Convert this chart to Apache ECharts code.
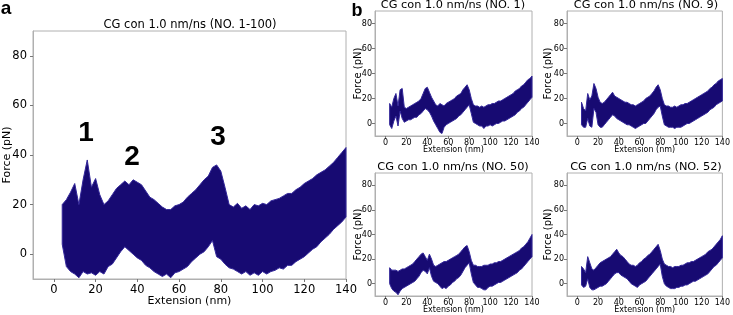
<!DOCTYPE html>
<html>
<head>
<meta charset="utf-8">
<script src="https://cdn.jsdelivr.net/npm/echarts@6/dist/echarts.min.js"></script>
<style>
  html, body { margin: 0; padding: 0; background: #fff; }
  #chart { width: 733px; height: 315px; }
</style>
</head>
<body>
<div id="chart"></div>
<script>
// extension grid (nm), one sample every 2 nm
const ext = []
for (let x = 4; x <= 140; x += 2) ext.push(x)

const xTicks = [0, 20, 40, 60, 80, 100, 120, 140]
const yTicks = [0, 20, 40, 60, 80]

// panel a: envelope of all 100 runs (upper / lower force, pN)
const allUpper = [
  20, 22, 25, 28.5, 20, 30, 38, 27, 30.5, 24,
  20, 21.5, 24, 26.5, 28, 29.5, 28, 30, 29, 28,
  25.5, 23, 22, 20.5, 19, 18, 18, 19.5, 20, 21,
  23, 24.5, 26, 28, 30, 31.5, 35, 36, 33.5, 27,
  20, 19, 20.5, 18.5, 19.5, 18, 20, 19.5, 20.5, 20,
  21.5, 22, 22.5, 23.5, 24.5, 24.5, 26, 27, 28.5, 29.5,
  30.5, 32, 33, 34, 35.5, 37, 39, 41, 43
]
const allLower = [
  4, -5, -7, -8, -9.5, -7, -8, -7.5, -8.5, -7,
  -8, -5, -4, -1.5, 1, 3, 1.5, 0, -1.5, -2.5,
  -4.5, -5.5, -7, -8, -9, -8, -9.5, -7.5, -7, -6,
  -5, -3, -1.5, 0, 1, 3, 5.5, -1, -2, -4,
  -5.5, -6, -7, -8, -7, -8.5, -7.5, -8.5, -7, -8,
  -7, -6.5, -5.5, -6, -4.5, -4.5, -3, -2, -1, 0.5,
  2, 3, 5, 6.5, 8, 10, 11.5, 13, 15
]

// panel b: single runs
const no1Upper = [
  16, 13, 20, 24, 14, 27, 28, 13, 12, 13,
  14, 15, 16, 17, 18, 20, 24, 28, 29, 25,
  21, 18, 15, 14, 16, 15, 14, 16, 17, 18,
  19, 20, 22, 23, 24, 27, 29, 31, 27, 20,
  15, 14, 14, 13, 14, 13, 14, 15, 15, 16,
  16, 17, 18, 18, 19, 20, 21, 22, 23, 24,
  26, 27, 28, 30, 31, 33, 35, 36, 38
]
const no1Lower = [
  -1, -4, 2, 6, -2, 10, 4, 1, 2, 3,
  3, 4, 5, 5, 7, 8, 10, 12, 11, 9,
  6, 2, -1, -4, -7, -8, -3, -1, 0, 1,
  2, 3, 4, 6, 7, 9, 11, 13, 15, 8,
  1, 0, -1, -2, -2, -4, -2, -2, -1, -2,
  -1, 0, 0, 1, 2, 2, 3, 4, 5, 6,
  7, 9, 10, 12, 13, 15, 17, 19, 21
]
const no9Upper = [
  17, 12, 10, 24, 19, 22, 32, 28, 21, 17,
  16, 17, 19, 21, 23, 25, 22, 21, 20, 19,
  18, 17, 17, 16, 15, 15, 14, 15, 16, 17,
  18, 20, 21, 22, 24, 26, 29, 31, 27, 20,
  15, 14, 14, 13, 13, 14, 13, 14, 15, 15,
  16, 16, 17, 18, 19, 20, 21, 22, 23, 24,
  25, 26, 28, 29, 31, 32, 34, 35, 36
]
const no9Lower = [
  -1, -3, -3, 4, -2, -3, 12, 9, -1, -3,
  -3, -1, 1, 3, 5, 7, 6, 4, 3, 2,
  1, 0, -1, -1, -2, -3, -4, -3, -2, -1,
  0, 0, 2, 4, 6, 8, 11, 13, 14, 6,
  -1, -2, -3, -3, -3, -4, -3, -3, -3, -2,
  -1, 0, 0, 1, 2, 3, 4, 5, 6, 7,
  8, 9, 11, 12, 13, 15, 16, 17, 18
]
const no50Upper = [
  13, 11, 11, 11, 10, 11, 12, 12, 13, 14,
  15, 16, 18, 20, 22, 24, 25, 22, 19, 24,
  20, 15, 14, 15, 16, 17, 18, 18, 19, 20,
  21, 22, 23, 24, 26, 28, 30, 31, 26, 19,
  15, 15, 14, 14, 14, 15, 15, 15, 16, 16,
  17, 17, 18, 18, 19, 20, 21, 22, 23, 24,
  25, 26, 27, 29, 30, 32, 34, 37, 40
]
const no50Lower = [
  0, -4, -6, -7, -9, -6, -4, -3, -2, -1,
  0, 1, 2, 4, 6, 9, 11, 10, 8, 13,
  6, 2, 1, 0, -2, -4, -3, -4, -2, -1,
  1, 2, 4, 5, 7, 10, 13, 15, 17, 8,
  1, -1, -3, -3, -4, -5, -5, -3, -2, -2,
  -1, 0, 1, 1, 2, 3, 4, 5, 6, 7,
  8, 9, 11, 12, 14, 16, 18, 20, 22
]
const no52Upper = [
  14, 12, 9, 22, 17, 12, 11, 13, 15, 17,
  18, 19, 20, 21, 22, 24, 26, 28, 25, 23,
  22, 20, 18, 16, 15, 15, 14, 15, 17, 18,
  20, 21, 23, 24, 26, 28, 30, 32, 27, 20,
  16, 15, 14, 14, 13, 14, 14, 14, 15, 15,
  16, 17, 17, 18, 18, 19, 20, 21, 22, 23,
  24, 26, 27, 28, 30, 32, 34, 36, 39
]
const no52Lower = [
  -1, -3, -2, 4, -3, -5, -5, -4, -3, -2,
  -2, -1, 0, 2, 4, 6, 8, 9, 9, 7,
  6, 5, 4, 2, 0, -1, -2, -3, -1, 0,
  1, 2, 4, 6, 8, 10, 12, 14, 16, 6,
  0, -2, -3, -4, -4, -4, -3, -3, -2, -2,
  -1, -1, 0, 1, 2, 2, 3, 4, 5, 6,
  7, 8, 10, 12, 14, 15, 17, 19, 21
]

const fillColor = '#170a72'
const edgeColor = '#33279a'
const spineColor = '#b0b0b0'
const font = 'DejaVu Sans'

const panels = [
  { grid: { left: 33, top: 31, width: 313, height: 248 }, upper: allUpper, lower: allLower,
    tick: 11.5, name: 11, yGap: 20, xGap: 17, margin: 5, yMargin: 6 },
  { grid: { left: 375, top: 11, width: 157, height: 125 }, upper: no1Upper, lower: no1Lower,
    tick: 8, name: 8, yName: 10, yGap: 12, xGap: 10, margin: 3, yMargin: 3 },
  { grid: { left: 567, top: 11, width: 157, height: 125 }, upper: no9Upper, lower: no9Lower,
    tick: 8, name: 8, yName: 10, yGap: 14, xGap: 10, margin: 3, yMargin: 3 },
  { grid: { left: 375, top: 173, width: 157, height: 124 }, upper: no50Upper, lower: no50Lower,
    tick: 8, name: 8, yName: 10, yGap: 12, xGap: 10, margin: 3, yMargin: 3 },
  { grid: { left: 567, top: 173, width: 157, height: 124 }, upper: no52Upper, lower: no52Lower,
    tick: 8, name: 8, yName: 10, yGap: 14, xGap: 10, margin: 3, yMargin: 3 }
]

const grid = []
const xAxis = []
const yAxis = []
const series = []

panels.forEach((p, i) => {
  grid.push(Object.assign({ show: true, borderColor: spineColor, borderWidth: 1 }, p.grid))
  const axisCommon = {
    gridIndex: i,
    type: 'value',
    nameLocation: 'middle',
    nameMoveOverlap: false,
    axisLine: { show: true, onZero: false, lineStyle: { color: spineColor } },
    axisTick: { show: true, length: 3, lineStyle: { color: '#777' } },
    splitLine: { show: false }
  }
  xAxis.push(Object.assign({}, axisCommon, {
    min: -10,
    max: 140,
    name: 'Extension (nm)',
    nameGap: p.xGap,
    nameTextStyle: { fontSize: p.name, fontFamily: font, color: '#000' },
    axisTick: Object.assign({}, axisCommon.axisTick, { customValues: xTicks }),
    axisLabel: { customValues: xTicks, fontSize: p.tick, fontFamily: font, color: '#000', margin: p.margin }
  }))
  yAxis.push(Object.assign({}, axisCommon, {
    min: -10,
    max: 90,
    name: 'Force (pN)',
    nameGap: p.yGap,
    nameTextStyle: { fontSize: p.yName || p.name, fontFamily: font, color: '#000' },
    axisTick: Object.assign({}, axisCommon.axisTick, { customValues: yTicks }),
    axisLabel: { customValues: yTicks, fontSize: p.tick, fontFamily: font, color: '#000', margin: p.yMargin }
  }))
  // band between lower and upper force, one polygon per panel
  series.push({
    type: 'custom',
    xAxisIndex: i,
    yAxisIndex: i,
    silent: true,
    encode: { x: 0, y: [1, 2] },
    data: ext.map((x, k) => [x, p.lower[k], p.upper[k]]),
    renderItem: (params, api) => {
      if (params.dataIndex !== 0) return
      const top = ext.map((x, k) => api.coord([x, p.upper[k]]))
      const bottom = ext.map((x, k) => api.coord([x, p.lower[k]])).reverse()
      return {
        type: 'polygon',
        shape: { points: top.concat(bottom) },
        style: { fill: fillColor, stroke: edgeColor, lineWidth: 1 }
      }
    }
  })
})

const txt = (text, x, y, size, weight, family) => ({
  type: 'text', x: x, y: y, silent: true,
  style: { text: text, fontSize: size, fontWeight: weight || 'normal', fontFamily: family || font,
    fill: '#000', align: 'center', verticalAlign: 'middle' }
})

const graphic = [
  txt('CG con 1.0 nm/ns (NO. 1-100)', 190, 25, 11.5),
  txt('CG con 1.0 nm/ns (NO. 1)', 453, 5.5, 11.3),
  txt('CG con 1.0 nm/ns (NO. 9)', 646, 5.5, 11.3),
  txt('CG con 1.0 nm/ns (NO. 50)', 453, 167, 11.3),
  txt('CG con 1.0 nm/ns (NO. 52)', 646, 167, 11.3),
  txt('a', 6, 9, 19, 'bold', 'Liberation Sans'),
  txt('b', 357, 11, 18, 'bold', 'Liberation Sans'),
  txt('1', 86, 133, 28, 'bold', 'Liberation Sans'),
  txt('2', 132, 157, 28, 'bold', 'Liberation Sans'),
  txt('3', 218, 137, 28, 'bold', 'Liberation Sans')
]

const chart = echarts.init(document.getElementById('chart'))
chart.setOption({
  animation: false,
  backgroundColor: '#fff',
  grid: grid,
  xAxis: xAxis,
  yAxis: yAxis,
  series: series,
  graphic: graphic
})
window.addEventListener('resize', () => chart.resize())
</script>
</body>
</html>
